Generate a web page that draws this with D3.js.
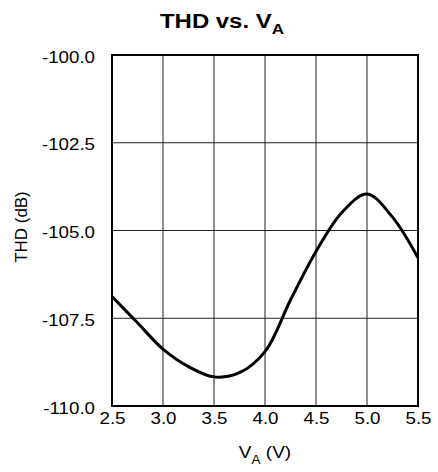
<!DOCTYPE html>
<html>
<head>
<meta charset="utf-8">
<script src="https://cdn.jsdelivr.net/npm/d3@7"></script>
<style>
  body { margin: 0; background: #fff; }
  text { font-family: "Liberation Sans", Arial, sans-serif; fill: #000; }
</style>
</head>
<body>
<svg id="chart"></svg>
<script>
// values
var va = [2.5, 2.75, 3.0, 3.25, 3.5, 3.75, 4.0, 4.25, 4.5, 4.75, 5.0, 5.25, 5.5];
var thd = [-106.88, -107.63, -108.38, -108.88, -109.17, -109.05, -108.45, -106.98, -105.6, -104.5, -103.96, -104.62, -105.78];
var xTicks = [2.5, 3.0, 3.5, 4.0, 4.5, 5.0, 5.5];
var yTicks = [-100, -102.5, -105, -107.5, -110];

var W = 438, H = 472;
var margin = { top: 55, right: 20, bottom: 66, left: 112 };
var width = W - margin.left - margin.right,
    height = H - margin.top - margin.bottom;

var svg = d3.select("#chart").attr("width", W).attr("height", H);

// stretch text a bit wider, like the reference lettering
function widen(sel, k) {
  sel.each(function() {
    var len = this.getComputedTextLength();
    d3.select(this).attr("textLength", len * k).attr("lengthAdjust", "spacingAndGlyphs");
  });
}

// title
var title = svg.append("text")
    .attr("transform", "translate(222,28) scale(1.14,1)")
    .attr("text-anchor", "middle")
    .style("font-size", "21px").style("font-weight", "bold");
title.append("tspan").text("THD vs. V");
title.append("tspan").attr("dy", 6).style("font-size", "15px").text("A");

var g = svg.append("g").attr("transform", "translate(" + margin.left + "," + margin.top + ")");

var x = d3.scaleLinear().domain([2.5, 5.5]).range([0, width]);
var y = d3.scaleLinear().domain([-110, -100]).range([height, 0]);

// grid
g.append("g").selectAll("line").data(xTicks).enter().append("line")
    .attr("x1", function(d){ return x(d); }).attr("x2", function(d){ return x(d); })
    .attr("y1", 0).attr("y2", height)
    .attr("stroke", "#222").attr("stroke-width", 1);
g.append("g").selectAll("line").data(yTicks).enter().append("line")
    .attr("y1", function(d){ return y(d); }).attr("y2", function(d){ return y(d); })
    .attr("x1", 0).attr("x2", width)
    .attr("stroke", "#222").attr("stroke-width", 1);

var fmt = function(d){ return d.toFixed(1); };

// axes (labels only)
var xAxis = g.append("g").attr("transform", "translate(0," + height + ")")
    .call(d3.axisBottom(x).tickValues(xTicks).tickFormat(fmt).tickSize(0).tickPadding(7));
var yAxis = g.append("g")
    .call(d3.axisLeft(y).tickValues(yTicks).tickFormat(fmt).tickSize(0).tickPadding(17));
yAxis.selectAll("text").attr("y", 2);
[xAxis, yAxis].forEach(function(a){
  a.select(".domain").remove();
  a.selectAll("text").style("font-size", "16px")
    .style("font-family", "'Liberation Sans', Arial, sans-serif").attr("fill", "#000");
  widen(a.selectAll("text"), 1.17);
});

// frame
g.append("rect").attr("width", width).attr("height", height)
    .attr("fill", "none").attr("stroke", "#000").attr("stroke-width", 2);

// curve
var line = d3.line()
    .x(function(d, i){ return x(va[i]); })
    .y(function(d, i){ return y(thd[i]); })
    .curve(d3.curveCatmullRom.alpha(0.5));
g.append("path").datum(thd).attr("d", line)
    .attr("fill", "none").attr("stroke", "#000").attr("stroke-width", 3);

// axis labels
var xl = svg.append("text")
    .attr("transform", "translate(" + (margin.left + width / 2) + ",458) scale(1.12,1)")
    .attr("text-anchor", "middle").style("font-size", "17px");
xl.append("tspan").text("V");
xl.append("tspan").attr("dy", 6).style("font-size", "12px").text("A");
xl.append("tspan").attr("dy", -6).text(" (V)");

svg.append("text")
    .attr("transform", "translate(27,227) rotate(-90) scale(1.06,1)")
    .attr("text-anchor", "middle").style("font-size", "16px")
    .text("THD (dB)");
</script>
</body>
</html>
